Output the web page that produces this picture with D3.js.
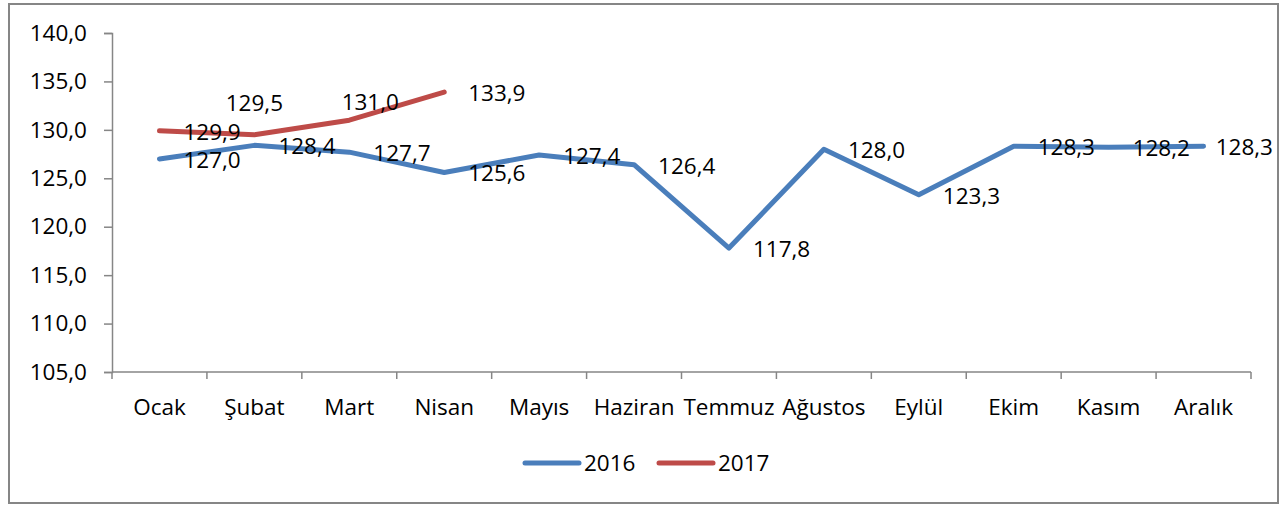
<!DOCTYPE html>
<html lang="tr">
<head>
<meta charset="utf-8">
<title>2016-2017</title>
<script src="https://cdn.jsdelivr.net/npm/d3@7"></script>
<style>
    body { margin: 0; background: #fff; }
    text { font-family: "Open Sans", sans-serif; font-size: 22.5px; fill: #000; }
</style>
</head>
<body>
<script>
    // data
    var months = ["Ocak", "Şubat", "Mart", "Nisan", "Mayıs", "Haziran", "Temmuz", "Ağustos", "Eylül", "Ekim", "Kasım", "Aralık"];
    var values2016 = [127.0, 128.4, 127.7, 125.6, 127.4, 126.4, 117.8, 128.0, 123.3, 128.3, 128.2, 128.3];
    var values2017 = [129.9, 129.5, 131.0, 133.9];
    var yTicks = [105, 110, 115, 120, 125, 130, 135, 140];

    var series = [
        { name: "2016", values: values2016, color: "#4A7EBB" },
        { name: "2017", values: values2017, color: "#BE4B48" }
    ];

    // labels Excel put above the line instead of to the right
    var nudge = { "2017-1": [0, -32], "2017-2": [21, -18] };

    var w = 1287, h = 506;
    var plot = { left: 112, right: 1251, top: 33, bottom: 372 };

    var fmt = function(v) { return d3.format(".1f")(v).replace(".", ","); };

    var svg = d3.select("body").append("svg")
        .attr("width", w)
        .attr("height", h);

    // outer frame
    svg.append("rect")
        .attr("x", 9).attr("y", 4)
        .attr("width", 1269).attr("height", 499)
        .attr("fill", "none")
        .attr("stroke", "#868686")
        .attr("stroke-width", 2);

    var x = d3.scaleBand()
        .domain(months)
        .range([plot.left, plot.right]);

    var y = d3.scaleLinear()
        .domain([105, 140])
        .range([plot.bottom, plot.top]);

    // y axis
    var yAxis = svg.append("g")
        .attr("transform", "translate(" + plot.left + ",0)")
        .call(d3.axisLeft(y).tickValues(yTicks).tickFormat(fmt).tickSize(8).tickPadding(17));
    yAxis.selectAll("line, path").attr("stroke", "#868686").attr("stroke-width", 1.5);
    yAxis.selectAll("text").attr("font-size", null).attr("font-family", null);

    // x axis: ticks at category boundaries
    var xg = svg.append("g")
        .attr("transform", "translate(0," + plot.bottom + ")");
    xg.append("line")
        .attr("x1", plot.left).attr("x2", plot.right)
        .attr("stroke", "#868686").attr("stroke-width", 1.5);
    var bounds = months.map(function(m) { return x(m); }).concat([x(months[months.length - 1]) + x.bandwidth()]);
    xg.selectAll(".tk")
        .data(bounds)
        .enter().append("line")
        .attr("x1", function(d) { return d; })
        .attr("x2", function(d) { return d; })
        .attr("y1", 0).attr("y2", 7)
        .attr("stroke", "#868686").attr("stroke-width", 1.5);
    xg.selectAll(".lbl")
        .data(months)
        .enter().append("text")
        .attr("x", function(d) { return x(d) + x.bandwidth() / 2; })
        .attr("y", 43)
        .attr("text-anchor", "middle")
        .text(function(d) { return d; });

    var line = d3.line()
        .x(function(d, i) { return x(months[i]) + x.bandwidth() / 2; })
        .y(function(d) { return y(d); });

    series.forEach(function(s) {
        svg.append("path")
            .datum(s.values)
            .attr("d", line)
            .attr("fill", "none")
            .attr("stroke", s.color)
            .attr("stroke-width", 5)
            .attr("stroke-linejoin", "round")
            .attr("stroke-linecap", "round");
    });

    // data labels (drawn after both lines, like Excel)
    series.forEach(function(s) {
        s.values.forEach(function(v, i) {
            var px = x(months[i]) + x.bandwidth() / 2;
            var py = y(v);
            var t = svg.append("text").text(fmt(v));
            var tw = t.node().getComputedTextLength();
            var n = nudge[s.name + "-" + i];
            if (n) {
                t.attr("x", px + n[0]).attr("y", py + n[1])
                    .attr("text-anchor", "middle")
                    .attr("dy", "0.36em");
            } else {
                t.attr("x", Math.min(px + 24, 1273 - tw)).attr("y", py)
                    .attr("dy", "0.4em");
            }
        });
    });

    // legend
    var legendX = [525, 659];
    series.forEach(function(s, i) {
        var g = svg.append("g").attr("transform", "translate(" + legendX[i] + ",463)");
        g.append("line")
            .attr("x1", 0).attr("x2", 54)
            .attr("stroke", s.color)
            .attr("stroke-width", 5)
            .attr("stroke-linecap", "round");
        g.append("text")
            .attr("x", 59)
            .attr("dy", "0.36em")
            .text(s.name);
    });
</script>
</body>
</html>
